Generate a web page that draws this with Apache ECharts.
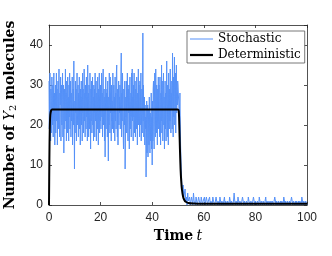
<!DOCTYPE html>
<html>
<head>
<meta charset="utf-8">
<script src="https://cdn.jsdelivr.net/npm/echarts@6/dist/echarts.min.js"></script>
<style>
html,body{margin:0;padding:0;background:#fff;}
#c{width:332px;height:256px;}
</style>
</head>
<body>
<div id="c"></div>
<script>
// ---- data ----
var xTicks = [0, 20, 40, 60, 80, 100];
var yTicks = [0, 10, 20, 30, 40];
// stochastic Y2 counts while the input is on: t = 0 ... 49.875, every 0.125
var highStep = 0.125;
var stochHigh = [
  31,19,27,33,22,16,29,25,18,32,24,20,30,17,26,33,21,28,15,25,
  30,18,26,33,21,29,15,24,31,19,27,34,22,17,28,25,32,16,23,30,
  20,27,33,17,25,30,13,22,29,19,26,34,21,28,16,31,24,18,32,23,
  27,16,30,22,33,19,25,31,17,28,21,26,32,15,24,29,20,36,22,9,
  26,18,31,23,29,16,27,33,20,25,30,17,28,22,32,19,26,15,29,24,
  31,20,27,16,33,23,29,18,25,34,21,28,17,30,24,19,32,22,27,16,
  35,22,28,17,30,24,19,33,26,14,29,21,31,18,25,32,20,27,16,30,
  23,29,17,33,21,26,31,16,28,22,19,32,25,15,29,24,33,18,27,21,
  30,19,26,33,22,28,17,31,34,20,25,29,16,27,12,23,32,19,28,24,
  29,17,31,22,11,27,20,33,25,18,32,23,28,16,30,21,26,19,33,24,
  18,30,23,27,16,32,21,28,19,33,35,22,17,29,15,26,31,20,27,23,
  30,19,26,32,38,17,28,21,33,24,18,14,29,25,20,31,9,17,27,22,
  31,18,26,33,20,16,29,23,30,14,27,32,19,25,28,17,33,22,34,21,
  27,16,30,22,33,18,25,31,17,29,23,19,32,26,15,28,21,34,20,30,
  24,17,31,20,28,33,16,22,29,18,26,43,21,30,17,24,27,15,25,19,
  22,7,17,26,13,21,25,12,18,24,15,27,19,13,23,16,20,28,14,22,
  10,26,16,29,31,19,14,27,33,20,17,34,25,18,30,22,15,29,21,32,
  19,30,23,17,32,26,15,28,21,35,18,31,24,16,29,33,20,27,14,26,
  31,19,28,16,24,36,22,17,30,27,15,33,25,19,29,21,34,23,18,28,
  24,31,19,38,27,17,32,22,29,37,20,26,33,18,30,35,23,28,25,31
];
// stochastic Y2 counts after the input is off: t = 50 ... 100, every 0.25
var lowStart = 50, lowStep = 0.25;
var stochLow = [
  30,26,22,28,15,9,5,4,
  5,2,3,4,1,2,0,3,1,1,2,0,1,2,1,0,3,1,1,0,
  2,1,0,1,2,1,1,0,2,1,0,1,1,2,0,1,2,1,0,1,
  1,2,0,1,1,0,2,1,1,0,1,2,1,0,1,1,0,2,1,0,
  1,1,0,1,2,0,1,1,0,1,1,0,2,1,0,1,1,0,1,3,
  1,0,1,1,0,2,1,0,1,1,0,1,2,1,0,1,1,0,1,1,
  0,2,1,1,0,1,1,0,1,2,1,0,1,1,0,1,1,0,2,1,
  0,1,1,0,1,1,0,1,2,0,1,1,0,1,1,0,1,0,1,1,
  0,1,2,1,0,1,1,0,1,1,0,1,0,1,1,0,2,1,0,1,
  1,0,1,1,0,1,0,1,2,1,0,1,1,0,1,0,1,1,0,1,
  0,1,1,0,2,1,0,1,1,0,1,1,0
];
var detT = [0, 0.15, 0.3, 0.5, 0.8, 1.2, 50, 50.3, 50.5, 50.75, 51, 51.25, 51.5, 52, 52.5, 53, 54, 56, 60, 70, 100];
var detY = [0, 12, 19, 22.5, 23.6, 23.9, 23.9, 23.5, 20, 14, 9, 6, 4, 2, 1.2, 0.8, 0.5, 0.35, 0.3, 0.3, 0.3];

var stochData = stochHigh.map(function (v, i) { return [i * highStep, v]; })
  .concat(stochLow.map(function (v, i) { return [lowStart + i * lowStep, v]; }));
var detData = detT.map(function (t, i) { return [t, detY[i]]; });

var axisColor = '#262626';
var blue = 'rgb(85,145,248)';
var chart = echarts.init(document.getElementById('c'), null, {renderer: 'canvas'});
var baseX = {
  type: 'value', min: xTicks[0], max: xTicks[xTicks.length - 1], interval: 20,
  axisLine: {show: true, onZero: false, lineStyle: {color: axisColor, width: 0.8}},
  axisTick: {show: true, inside: true, length: 3, lineStyle: {color: axisColor, width: 0.8}},
  splitLine: {show: false}
};
var baseY = {
  type: 'value', min: yTicks[0], max: 45, interval: 10,
  axisLine: {show: true, onZero: false, lineStyle: {color: axisColor, width: 0.8}},
  axisTick: {show: true, inside: true, length: 3, lineStyle: {color: axisColor, width: 0.8}},
  splitLine: {show: false}
};
chart.setOption({
  animation: false,
  grid: {left: 49, right: 25, top: 25, bottom: 51, containLabel: false, outerBoundsMode: 'none'},
  legend: {
    orient: 'vertical', left: 187, top: 31,
    padding: [2, 4, 2, 3], itemGap: 4, itemWidth: 23, itemHeight: 14,
    symbolKeepAspect: true,
    backgroundColor: '#fff', borderColor: '#555', borderWidth: 0.8,
    textStyle: {fontFamily: 'DejaVu Serif', fontSize: 12, color: '#000'},
    data: [
      {name: 'Stochastic', icon: 'path://M0,0H23V1H0Z'},
      {name: 'Deterministic', icon: 'path://M0,0H23V2.2H0Z'}
    ]
  },
  xAxis: [
    Object.assign({}, baseX, {
      position: 'bottom',
      axisLabel: {show: true, margin: 7, fontFamily: 'Liberation Sans', fontSize: 12, color: axisColor},
      name: '{b|Time} {i|t}', nameLocation: 'middle', nameGap: 17,
      nameTextStyle: {rich: {
        b: {fontFamily: 'DejaVu Serif', fontWeight: 'bold', fontSize: 14, color: '#000'},
        i: {fontFamily: 'DejaVu Serif', fontStyle: 'italic', fontSize: 14, color: '#000'}
      }}
    }),
    Object.assign({}, baseX, {position: 'top', axisLabel: {show: false}})
  ],
  yAxis: [
    Object.assign({}, baseY, {
      position: 'left',
      axisLabel: {show: true, margin: 6, fontFamily: 'Liberation Sans', fontSize: 12, color: axisColor, showMaxLabel: false},
      name: '{b|Number of }{i|Y}{s|2}{b| molecules}', nameLocation: 'middle', nameGap: 23,
      nameTextStyle: {rich: {
        b: {fontFamily: 'DejaVu Serif', fontWeight: 'bold', fontSize: 14, color: '#000'},
        i: {fontFamily: 'DejaVu Serif', fontStyle: 'italic', fontSize: 14, color: '#000'},
        s: {fontFamily: 'DejaVu Serif', fontSize: 10, color: '#000', verticalAlign: 'bottom', padding: [6, 0, 0, 0]}
      }}
    }),
    Object.assign({}, baseY, {position: 'right', axisLabel: {show: false}})
  ],
  series: [
    {
      name: 'Stochastic', type: 'line', xAxisIndex: 0, yAxisIndex: 0,
      data: stochData, step: 'end', symbol: 'none', showSymbol: false,
      lineStyle: {color: blue, width: 1},
      itemStyle: {color: blue}
    },
    {
      name: 'Deterministic', type: 'line', xAxisIndex: 0, yAxisIndex: 0,
      data: detData, smooth: 0.3, symbol: 'none', showSymbol: false,
      lineStyle: {color: '#000', width: 2},
      itemStyle: {color: '#000'}
    }
  ]
});
</script>
</body>
</html>
